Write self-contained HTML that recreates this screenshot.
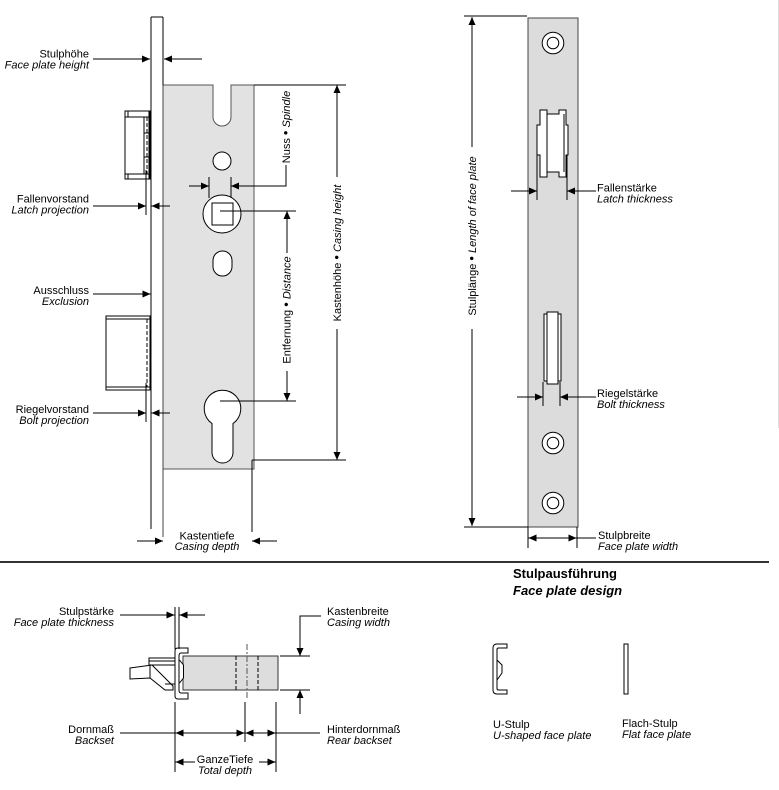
<!DOCTYPE html>
<html><head><meta charset="utf-8"><style>
html,body{margin:0;padding:0;background:#fff;}
svg{display:block;}
text{font-family:"Liberation Sans",Arial,sans-serif;font-size:11px;fill:#000;}
.i{font-style:italic;}
.ln{stroke:#000;stroke-width:1;fill:none;}
.g{stroke:#555;stroke-width:1;}
</style></head><body>
<svg width="779" height="790" viewBox="0 0 779 790" xmlns="http://www.w3.org/2000/svg">
<defs>
<marker id="a" markerUnits="userSpaceOnUse" markerWidth="9" markerHeight="7" refX="8" refY="3.5" orient="auto">
<path d="M0,0 L8,3.5 L0,7 z" fill="#000"/>
</marker>
</defs>

<line x1="778.5" y1="0" x2="778.5" y2="428" stroke="#ddd" stroke-width="1"/>

<!-- ============ LEFT MAIN LOCK ============ -->
<!-- casing -->
<path d="M163,85 L213,85 L213,117 A9,9 0 0 0 231,117 L231,85 L254,85 L254,469 L163,469 Z" fill="#e2e2e2" stroke="#555" stroke-width="1"/>
<!-- face plate -->
<rect x="151" y="17" width="12" height="512" fill="#fff" stroke="none"/>
<line class="ln" x1="151" y1="17" x2="151" y2="529"/>
<line class="ln" x1="151" y1="17" x2="163" y2="17"/>
<line class="ln" x1="163" y1="17" x2="163" y2="85"/>
<line x1="163" y1="85" x2="163" y2="537" stroke="#444" stroke-width="1"/>

<!-- holes -->
<circle cx="222" cy="161" r="9" fill="#fff" stroke="#000"/>
<circle cx="222" cy="214" r="19" fill="#fff" stroke="#000"/>
<rect x="212" y="203" width="21" height="22" fill="#fff" stroke="#000"/>
<rect x="213" y="251" width="19" height="25" rx="9.5" ry="9.5" fill="#fff" stroke="#000"/>
<!-- keyhole -->
<path d="M212,423.5 A18.3,18.3 0 1 1 233,423.5 L233,452.5 A10.5,10.5 0 0 1 212,452.5 Z" fill="#fff" stroke="#000"/>

<!-- latch -->
<rect x="125" y="111" width="25" height="68" fill="#fff" stroke="#000"/>
<line class="ln" x1="125" y1="117" x2="150" y2="117"/>
<line class="ln" x1="125" y1="174" x2="150" y2="174"/>
<line class="ln" x1="128" y1="111" x2="128" y2="117"/>
<line class="ln" x1="128" y1="174" x2="128" y2="179"/>
<line class="ln" x1="144" y1="117" x2="144" y2="174"/>
<line class="ln" x1="147" y1="117" x2="147" y2="174" stroke-dasharray="4,2"/>
<line class="ln" x1="149" y1="111" x2="149" y2="179"/>
<line class="ln" x1="144" y1="133" x2="150" y2="133"/>
<line class="ln" x1="144" y1="157" x2="150" y2="157"/>

<!-- bolt -->
<rect x="106" y="316" width="44" height="74" fill="#fff" stroke="#000"/>
<line class="ln" x1="106" y1="319" x2="150" y2="319"/>
<line class="ln" x1="106" y1="387" x2="150" y2="387"/>
<line class="ln" x1="147" y1="319" x2="147" y2="387" stroke-dasharray="4,2"/>

<!-- Stulphöhe -->
<text x="89" y="57.5" text-anchor="end">Stulphöhe</text>
<text x="89" y="68.5" text-anchor="end" class="i">Face plate height</text>
<line class="ln" x1="93" y1="59" x2="150" y2="59" marker-end="url(#a)"/>
<line class="ln" x1="202" y1="59" x2="164" y2="59" marker-end="url(#a)"/>

<!-- Fallenvorstand -->
<text x="89" y="202.5" text-anchor="end">Fallenvorstand</text>
<text x="89" y="213.5" text-anchor="end" class="i">Latch projection</text>
<line class="ln" x1="93" y1="206" x2="146" y2="206" marker-end="url(#a)"/>
<line class="ln" x1="170" y1="206" x2="151.5" y2="206" marker-end="url(#a)"/>
<line class="ln" x1="146" y1="170" x2="146" y2="215"/>

<!-- Ausschluss -->
<text x="89" y="294" text-anchor="end">Ausschluss</text>
<text x="89" y="305" text-anchor="end" class="i">Exclusion</text>
<line class="ln" x1="93" y1="294" x2="150.5" y2="294" marker-end="url(#a)"/>

<!-- Riegelvorstand -->
<text x="89" y="413" text-anchor="end">Riegelvorstand</text>
<text x="89" y="424" text-anchor="end" class="i">Bolt projection</text>
<line class="ln" x1="93" y1="413" x2="146" y2="413" marker-end="url(#a)"/>
<line class="ln" x1="170" y1="413" x2="151.5" y2="413" marker-end="url(#a)"/>
<line class="ln" x1="146" y1="383" x2="146" y2="422"/>

<!-- Nuss / Spindle -->
<line class="ln" x1="209" y1="177" x2="209" y2="198"/>
<line class="ln" x1="231" y1="177" x2="231" y2="198"/>
<line class="ln" x1="189" y1="186" x2="209" y2="186" marker-end="url(#a)"/>
<path class="ln" d="M286,165 L286,186 L231,186" marker-end="url(#a)"/>
<text transform="translate(290,127) rotate(-90)" text-anchor="middle">Nuss <tspan font-size="13">•</tspan> <tspan class="i">Spindle</tspan></text>

<!-- Entfernung / Distance -->
<line class="ln" x1="220" y1="211" x2="296" y2="211"/>
<line class="ln" x1="287" y1="253" x2="287" y2="211" marker-end="url(#a)"/>
<text transform="translate(290.5,310) rotate(-90)" text-anchor="middle">Entfernung <tspan font-size="13">•</tspan> <tspan class="i">Distance</tspan></text>
<line class="ln" x1="287" y1="371" x2="287" y2="401" marker-end="url(#a)"/>
<line class="ln" x1="220" y1="401" x2="296" y2="401"/>

<!-- Kastenhöhe / Casing height -->
<line class="ln" x1="254" y1="85" x2="346" y2="85"/>
<line class="ln" x1="337" y1="177" x2="337" y2="85" marker-end="url(#a)"/>
<text transform="translate(341,253) rotate(-90)" text-anchor="middle">Kastenhöhe <tspan font-size="13">•</tspan> <tspan class="i">Casing height</tspan></text>
<line class="ln" x1="337" y1="329" x2="337" y2="460" marker-end="url(#a)"/>
<line class="ln" x1="252" y1="460" x2="346" y2="460"/>
<line class="ln" x1="252" y1="460" x2="252" y2="532"/>

<!-- Kastentiefe -->
<line class="ln" x1="137" y1="541" x2="163" y2="541" marker-end="url(#a)"/>
<line class="ln" x1="277" y1="541" x2="252" y2="541" marker-end="url(#a)"/>
<text x="207" y="539.5" text-anchor="middle">Kastentiefe</text>
<text x="207" y="550" text-anchor="middle" class="i">Casing depth</text>

<!-- ============ RIGHT FACE PLATE ============ -->
<rect x="528" y="18" width="50" height="509" fill="#dcdcdc" stroke="#444" stroke-width="1"/>
<circle cx="553" cy="43" r="10.8" fill="#fff" stroke="#000"/>
<circle cx="553" cy="43" r="5.8" fill="#fff" stroke="#000"/>
<circle cx="553" cy="443" r="10.8" fill="#fff" stroke="#000"/>
<circle cx="553" cy="443" r="5.8" fill="#fff" stroke="#000"/>
<circle cx="553" cy="503" r="10.8" fill="#fff" stroke="#000"/>
<circle cx="553" cy="503" r="5.8" fill="#fff" stroke="#000"/>

<!-- latch on face -->
<path d="M540,110 L547,110 L547,114 L559,114 L559,110 L566,110 L566,125 L568,125 L568,155 L566,155 L566,177 L559,177 L559,172 L547,172 L547,177 L540,177 L540,155 L537,155 L537,125 L540,125 Z" fill="#fff" stroke="#000"/>
<line class="ln" x1="547" y1="114" x2="547" y2="172"/>
<line class="ln" x1="564" y1="114" x2="564" y2="172"/>
<line class="ln" x1="537" y1="155" x2="537" y2="200"/>
<line class="ln" x1="567" y1="155" x2="567" y2="200"/>

<!-- bolt on face -->
<rect x="544" y="314" width="17" height="67" fill="#fff" stroke="#000"/>
<rect x="547" y="312" width="11" height="72" fill="#fff" stroke="#000"/>
<line class="ln" x1="543" y1="382" x2="543" y2="406"/>
<line class="ln" x1="560" y1="382" x2="560" y2="406"/>

<!-- Stulplänge -->
<line class="ln" x1="464" y1="16" x2="527" y2="16"/>
<line class="ln" x1="472" y1="147" x2="472" y2="17" marker-end="url(#a)"/>
<text transform="translate(476,236) rotate(-90)" text-anchor="middle">Stulplänge <tspan font-size="13">•</tspan> <tspan class="i">Length of face plate</tspan></text>
<line class="ln" x1="472" y1="329" x2="472" y2="526" marker-end="url(#a)"/>
<line class="ln" x1="464" y1="527" x2="528" y2="527"/>

<!-- Fallenstärke -->
<line class="ln" x1="511" y1="191" x2="537" y2="191" marker-end="url(#a)"/>
<line class="ln" x1="596" y1="191" x2="567" y2="191" marker-end="url(#a)"/>
<text x="597" y="191.5">Fallenstärke</text>
<text x="597" y="202.5" class="i">Latch thickness</text>

<!-- Riegelstärke -->
<line class="ln" x1="517" y1="397" x2="543" y2="397" marker-end="url(#a)"/>
<line class="ln" x1="596" y1="397" x2="560" y2="397" marker-end="url(#a)"/>
<text x="597" y="397">Riegelstärke</text>
<text x="597" y="408" class="i">Bolt thickness</text>

<!-- Stulpbreite -->
<line class="ln" x1="528" y1="527" x2="528" y2="548"/>
<line class="ln" x1="577" y1="527" x2="577" y2="548"/>
<line class="ln" x1="553" y1="538" x2="528.5" y2="538" marker-end="url(#a)"/>
<line class="ln" x1="553" y1="538" x2="576.5" y2="538" marker-end="url(#a)"/>
<line class="ln" x1="577" y1="538" x2="596" y2="538"/>
<text x="598" y="539">Stulpbreite</text>
<text x="598" y="550" class="i">Face plate width</text>

<!-- separator -->
<line x1="0" y1="562" x2="769" y2="562" stroke="#333" stroke-width="2"/>

<!-- ============ BOTTOM SIDE VIEW ============ -->
<text x="513" y="578" font-weight="bold" font-size="13" style="font-size:13px;font-weight:bold">Stulpausführung</text>
<text x="513" y="595" style="font-size:13px;font-weight:bold;font-style:italic">Face plate design</text>

<!-- latch -->
<rect x="149" y="658" width="26" height="7" fill="#fff" stroke="#000"/>
<line class="ln" x1="149" y1="661" x2="175" y2="661"/>
<path d="M130,668 L152,665 L173,686 L173,690 L165,690 L150,678 L130,679 Z" fill="#fff" stroke="#000"/>
<line class="ln" x1="150" y1="665" x2="150" y2="678"/>
<line class="ln" x1="165" y1="684" x2="175" y2="684"/>

<!-- casing -->
<rect x="183" y="656" width="95" height="34" fill="#dddddd" stroke="#333"/>
<line class="ln" x1="236" y1="656" x2="236" y2="690" stroke-dasharray="4,2"/>
<line class="ln" x1="258" y1="656" x2="258" y2="690" stroke-dasharray="4,2"/>
<line x1="247" y1="644" x2="247" y2="700" stroke="#555" stroke-width="1" stroke-dasharray="6,2,2,2"/>

<!-- U plate -->
<path d="M175,651 Q175,648 178,648 L188,648 L188,653 L181,653 Q179,653 179,656 L179,690 Q179,693 181,693 L188,693 L188,699 L178,699 Q175,699 175,696 Z" fill="#fff" stroke="#000"/>
<path d="M179.5,660 L183.5,665 L183.5,678 L179.5,683" fill="#fff" stroke="#000"/>

<!-- Stulpstärke -->
<line class="ln" x1="175" y1="607" x2="175" y2="649"/>
<line class="ln" x1="179" y1="607" x2="179" y2="649"/>
<line class="ln" x1="120" y1="615" x2="174.5" y2="615" marker-end="url(#a)"/>
<line class="ln" x1="205" y1="615" x2="179.5" y2="615" marker-end="url(#a)"/>
<text x="114" y="615" text-anchor="end">Stulpstärke</text>
<text x="114" y="626" text-anchor="end" class="i">Face plate thickness</text>

<!-- Kastenbreite -->
<line class="ln" x1="280" y1="656" x2="310" y2="656"/>
<line class="ln" x1="280" y1="690" x2="310" y2="690"/>
<path class="ln" d="M321,616 L300,616 L300,656" marker-end="url(#a)"/>
<line class="ln" x1="300" y1="714" x2="300" y2="690" marker-end="url(#a)"/>
<text x="327" y="615">Kastenbreite</text>
<text x="327" y="626" class="i">Casing width</text>

<!-- Dornmaß / Hinterdornmaß -->
<line class="ln" x1="175" y1="702" x2="175" y2="772"/>
<line class="ln" x1="245" y1="702" x2="245" y2="742"/>
<line class="ln" x1="276" y1="702" x2="276" y2="772"/>
<line class="ln" x1="120" y1="733" x2="175" y2="733"/>
<line class="ln" x1="210" y1="733" x2="175.5" y2="733" marker-end="url(#a)"/>
<line class="ln" x1="210" y1="733" x2="244.5" y2="733" marker-end="url(#a)"/>
<line class="ln" x1="261" y1="733" x2="245.5" y2="733" marker-end="url(#a)"/>
<line class="ln" x1="261" y1="733" x2="275.5" y2="733" marker-end="url(#a)"/>
<line class="ln" x1="276" y1="733" x2="320" y2="733"/>
<text x="114" y="733" text-anchor="end">Dornmaß</text>
<text x="114" y="744" text-anchor="end" class="i">Backset</text>
<text x="327" y="733">Hinterdornmaß</text>
<text x="327" y="744" class="i">Rear backset</text>

<!-- GanzeTiefe -->
<line class="ln" x1="195" y1="762" x2="175.5" y2="762" marker-end="url(#a)"/>
<line class="ln" x1="259" y1="762" x2="275.5" y2="762" marker-end="url(#a)"/>
<text x="225" y="763" text-anchor="middle">GanzeTiefe</text>
<text x="225" y="774" text-anchor="middle" class="i">Total depth</text>

<!-- U-Stulp -->
<path d="M507,644 L497,644 Q493,644 493,648 L493,690 Q493,694 497,694 L507,694 L507,690 L498.5,690 Q497,690 497,688.5 L497,649.5 Q497,648 498.5,648 L507,648 Z" fill="#fff" stroke="#000"/>
<path d="M497,660 L502,665 L502,673 L497,680" fill="none" stroke="#000"/>
<text x="493" y="728">U-Stulp</text>
<text x="493" y="739" class="i">U-shaped face plate</text>

<!-- Flach-Stulp -->
<rect x="624" y="644" width="4" height="50" fill="#fff" stroke="#000"/>
<text x="622" y="727">Flach-Stulp</text>
<text x="622" y="738" class="i">Flat face plate</text>
</svg>
</body></html>
